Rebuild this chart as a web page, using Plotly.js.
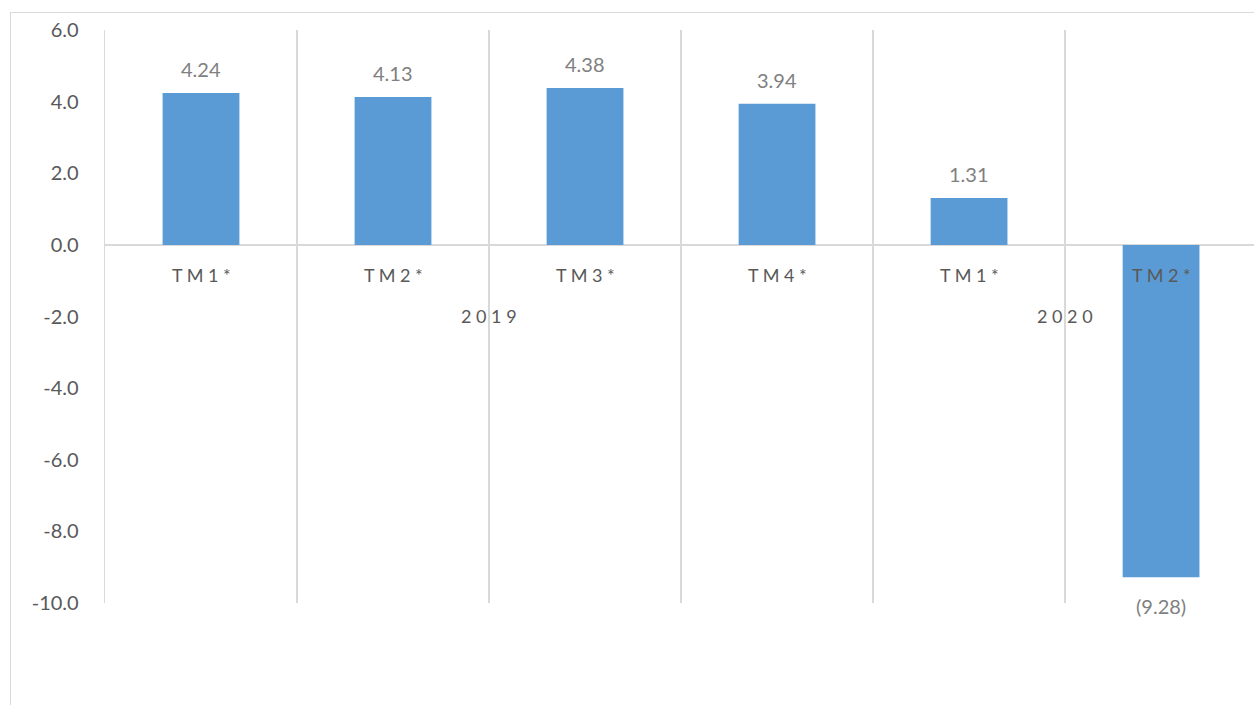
<!DOCTYPE html>
<html>
<head>
<meta charset="utf-8">
<script src="https://cdn.plot.ly/plotly-3.0.1.min.js"></script>
<style>
  html, body { margin: 0; padding: 0; background: #fff; width: 1254px; height: 705px; overflow: hidden; }
  #frame { position: absolute; left: 10px; top: 12px; width: 1244px; height: 693px;
           border-left: 1px solid #d9d9d9; border-top: 1px solid #d9d9d9; }
  #chart { width: 1243px; height: 692px; }
</style>
</head>
<body>
<div id="frame"><div id="chart"></div></div>
<script>
const quarters = ["T M 1 *", "T M 2 *", "T M 3 *", "T M 4 *", "T M 1 *", "T M 2 *"];
const years = ["2 0 1 9", "2 0 2 0"];
const yearSpan = [[0, 3], [4, 5]];
const values = [4.24, 4.13, 4.38, 3.94, 1.31, -9.28];
const yTicks = [6, 4, 2, 0, -2, -4, -6, -8, -10];
const yTickText = yTicks.map(v => v.toFixed(1));

const idx = values.map((v, i) => i);
const fmt = v => v < 0 ? "(" + Math.abs(v).toFixed(2) + ")" : v.toFixed(2);

const trace = {
  type: "bar",
  x: idx,
  y: values,
  width: 0.4,
  marker: { color: "#5B9BD5" },
  hoverinfo: "skip"
};

const annotations = [];
values.forEach((v, i) => {
  annotations.push({
    x: i, y: v, xref: "x", yref: "y",
    text: fmt(v), showarrow: false,
    yanchor: v >= 0 ? "bottom" : "top",
    yshift: v >= 0 ? 10 : -15,
    font: { family: "Lato, sans-serif", size: 20, color: "#808080" }
  });
  annotations.push({
    x: i, y: 0, xref: "x", yref: "y",
    text: quarters[i], showarrow: false,
    yanchor: "middle", yshift: -30,
    font: { family: "Lato, sans-serif", size: 18, color: "#595959" }
  });
});
years.forEach((yr, k) => {
  annotations.push({
    x: (yearSpan[k][0] + yearSpan[k][1]) / 2, y: 0, xref: "x", yref: "y",
    text: yr, showarrow: false,
    yanchor: "middle", yshift: -71,
    font: { family: "Lato, sans-serif", size: 18, color: "#595959" }
  });
});

const boundaries = [];
for (let i = 0; i <= values.length; i++) boundaries.push(i - 0.5);

const layout = {
  width: 1243, height: 692,
  margin: { l: 94, r: 0, t: 17, b: 102, pad: 0 },
  paper_bgcolor: "#fff", plot_bgcolor: "#fff",
  showlegend: false,
  xaxis: {
    range: [-0.5, 5.484],
    tickvals: boundaries,
    showticklabels: false,
    ticks: "",
    showgrid: true, gridcolor: "#d9d9d9", gridwidth: 1.3,
    zeroline: false, showline: false, fixedrange: true
  },
  yaxis: {
    range: [-10, 6],
    tickvals: yTicks,
    ticktext: yTickText,
    ticks: "outside", ticklen: 21, tickcolor: "rgba(0,0,0,0)",
    tickfont: { family: "Lato, sans-serif", size: 20, color: "#595959" },
    showgrid: false,
    zeroline: true, zerolinecolor: "#d9d9d9", zerolinewidth: 1.3,
    showline: true, linecolor: "#d9d9d9", linewidth: 1.3,
    fixedrange: true
  },
  annotations: annotations
};

Plotly.newPlot("chart", [trace], layout, { displayModeBar: false, staticPlot: true });
</script>
</body>
</html>
